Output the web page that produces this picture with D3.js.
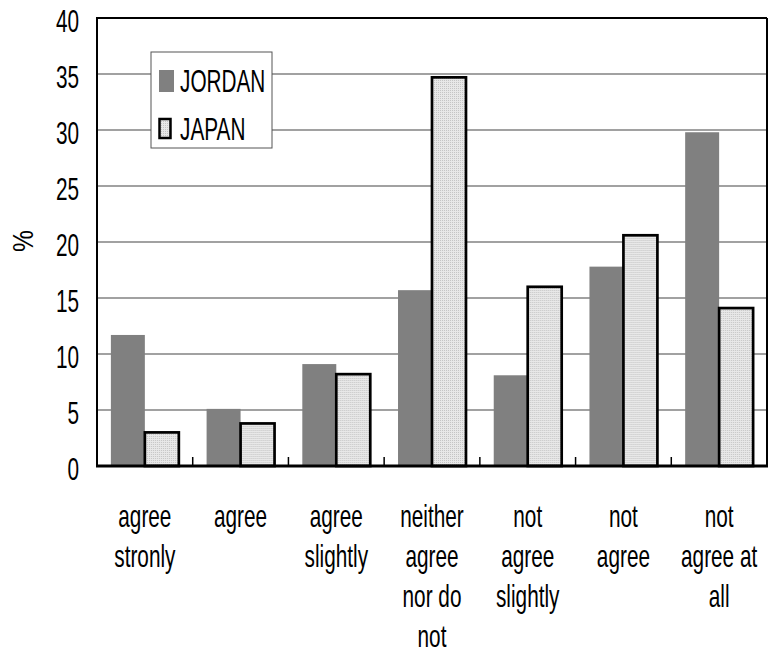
<!DOCTYPE html>
<html>
<head>
<meta charset="utf-8">
<script src="https://cdn.jsdelivr.net/npm/d3@7"></script>
<style>
  html, body { margin: 0; padding: 0; background: #fff; }
  svg { display: block; }
  text { font-family: "Liberation Sans", Arial, sans-serif; fill: #000; }
</style>
</head>
<body>
<svg id="chart" width="772" height="660"></svg>
<script>
// Survey responses by country (%)
const categories = [
  ["agree", "stronly"],
  ["agree"],
  ["agree", "slightly"],
  ["neither", "agree", "nor do", "not"],
  ["not", "agree", "slightly"],
  ["not", "agree"],
  ["not", "agree at", "all"]
];
const seriesNames = ["JORDAN", "JAPAN"];
const jordan = [11.7, 5.1, 9.1, 15.7, 8.1, 17.8, 29.8];
const japan  = [3.0, 3.8, 8.2, 34.7, 16.0, 20.6, 14.1];
const yTicks = [0, 5, 10, 15, 20, 25, 30, 35, 40];

const svg = d3.select("#chart");
const plot = { left: 97, top: 18, right: 767, bottom: 466 };
// condensed lettering: regular face squeezed horizontally
const fontSize = 31, squeeze = 0.67;

// fine stipple fill used for the JAPAN bars
const defs = svg.append("defs");
const pat = defs.append("pattern")
  .attr("id", "stipple").attr("patternUnits", "userSpaceOnUse")
  .attr("width", 2).attr("height", 2);
pat.append("rect").attr("width", 2).attr("height", 2).attr("fill", "#e8e8e8");
pat.append("rect").attr("width", 1).attr("height", 1).attr("fill", "#c4c4c4");

const x = d3.scaleBand()
  .domain(d3.range(categories.length))
  .range([plot.left, plot.right])
  .paddingInner(0.29).paddingOuter(0.145);
const xs = d3.scaleBand().domain(seriesNames).range([0, x.bandwidth()]);
const y = d3.scaleLinear().domain([0, 40]).range([plot.bottom, plot.top]);
const step = x.step();

// horizontal gridlines
svg.append("g").selectAll("line")
  .data(yTicks.filter(t => t > 0 && t < 40))
  .join("line")
  .attr("x1", plot.left).attr("x2", plot.right)
  .attr("y1", d => y(d)).attr("y2", d => y(d))
  .attr("stroke", "#444").attr("stroke-width", 1.2);

// y tick labels
svg.append("g").selectAll("text")
  .data(yTicks)
  .join("text")
  .attr("text-anchor", "end")
  .attr("font-size", fontSize)
  .attr("transform", d => `translate(79,${y(d) + 13.5}) scale(${squeeze},1)`)
  .text(d => d);

// y axis title
svg.append("text")
  .attr("text-anchor", "middle")
  .attr("font-size", 29)
  .attr("transform", "translate(33,241) rotate(-90) scale(0.85,1)")
  .text("%");

// bars
const groups = svg.append("g").selectAll("g")
  .data(categories.map((c, i) => ({ i, vals: [jordan[i], japan[i]] })))
  .join("g")
  .attr("transform", d => `translate(${x(d.i)},0)`);

groups.append("rect")
  .attr("x", xs("JORDAN")).attr("width", xs.bandwidth())
  .attr("y", d => y(d.vals[0])).attr("height", d => y(0) - y(d.vals[0]))
  .attr("fill", "#808080");

groups.append("rect")
  .attr("x", xs("JAPAN")).attr("width", xs.bandwidth())
  .attr("y", d => y(d.vals[1])).attr("height", d => y(0) - y(d.vals[1]))
  .attr("fill", "url(#stipple)")
  .attr("stroke", "#000").attr("stroke-width", 2.7);

// category separator ticks on the x axis
svg.append("g").selectAll("line")
  .data(d3.range(1, categories.length))
  .join("line")
  .attr("x1", d => plot.left + d * step).attr("x2", d => plot.left + d * step)
  .attr("y1", plot.bottom).attr("y2", plot.bottom - 9)
  .attr("stroke", "#000").attr("stroke-width", 1.5);

// plot frame
svg.append("line").attr("x1", plot.left).attr("x2", plot.right)
  .attr("y1", plot.top).attr("y2", plot.top)
  .attr("stroke", "#000").attr("stroke-width", 2);
svg.append("line").attr("x1", plot.right).attr("x2", plot.right)
  .attr("y1", plot.top).attr("y2", plot.bottom)
  .attr("stroke", "#000").attr("stroke-width", 2);
svg.append("line").attr("x1", plot.left).attr("x2", plot.left)
  .attr("y1", plot.top - 1).attr("y2", plot.bottom)
  .attr("stroke", "#000").attr("stroke-width", 2);
svg.append("line").attr("x1", plot.left - 1).attr("x2", plot.right + 1)
  .attr("y1", plot.bottom).attr("y2", plot.bottom)
  .attr("stroke", "#000").attr("stroke-width", 3);

// category labels
const labels = svg.append("g").selectAll("g")
  .data(categories.map((c, i) => ({ i, lines: c })))
  .join("g")
  .attr("transform", d => `translate(${x(d.i) + x.bandwidth() / 2},0)`);
labels.selectAll("text")
  .data(d => d.lines)
  .join("text")
  .attr("text-anchor", "middle")
  .attr("font-size", fontSize)
  .attr("transform", (d, j) => `translate(0,${plot.bottom + 61 + j * 40}) scale(${squeeze},1)`)
  .text(d => d);

// legend
const legend = svg.append("g").attr("transform", "translate(151,52)");
legend.append("rect")
  .attr("width", 121).attr("height", 96)
  .attr("fill", "#fff").attr("stroke", "#555").attr("stroke-width", 1);
const items = legend.selectAll("g.item")
  .data(seriesNames)
  .join("g").attr("class", "item")
  .attr("transform", (d, i) => `translate(0,${29 + i * 48})`);
items.append("rect")
  .attr("x", d => d === "JORDAN" ? 8 : 8.5)
  .attr("y", d => d === "JORDAN" ? -11 : -10)
  .attr("width", d => d === "JORDAN" ? 15 : 11)
  .attr("height", d => d === "JORDAN" ? 22 : 19)
  .attr("fill", d => d === "JORDAN" ? "#808080" : "url(#stipple)")
  .attr("stroke", d => d === "JORDAN" ? "none" : "#000")
  .attr("stroke-width", 2.5);
items.append("text")
  .attr("font-size", fontSize)
  .attr("transform", "translate(29,11) scale(" + squeeze + ",1)")
  .text(d => d);
</script>
</body>
</html>
